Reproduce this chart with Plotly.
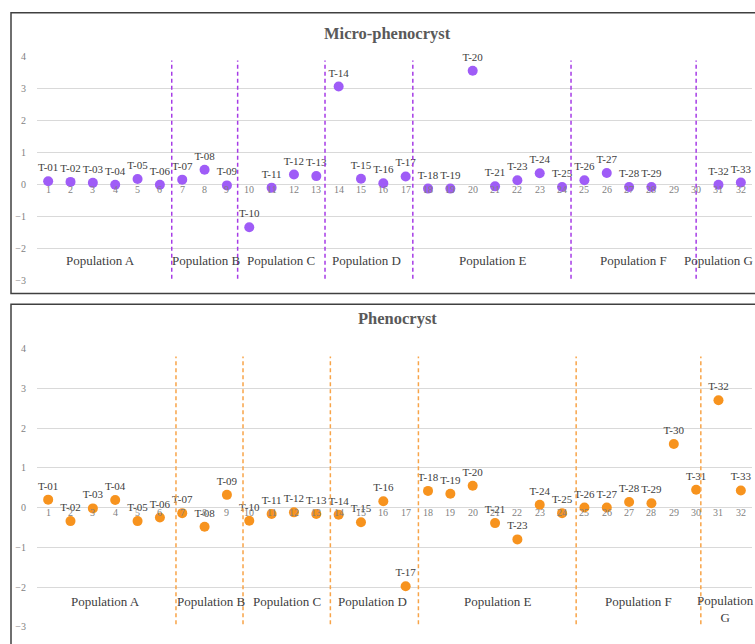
import plotly.graph_objects as go

# ---------------- data ----------------
categories = list(range(1, 33))

micro_values = [0.11, 0.09, 0.06, 0.0, 0.18, 0.0, 0.16, 0.47, -0.02, -1.33,
                -0.09, 0.32, 0.27, 3.07, 0.19, 0.05, 0.26, -0.12, -0.12, 3.56,
                -0.05, 0.14, 0.36, -0.07, 0.14, 0.37, -0.07, -0.07, None, None,
                0.0, 0.07]
micro_labels = ["T-01", "T-02", "T-03", "T-04", "T-05", "T-06", "T-07", "T-08", "T-09", "T-10",
                "T-11", "T-12", "T-13", "T-14", "T-15", "T-16", "T-17", "T-18", "T-19", "T-20",
                "T-21", "T-23", "T-24", "T-25", "T-26", "T-27", "T-28", "T-29", "", "",
                "T-32", "T-33"]

pheno_values = [0.20, -0.34, -0.02, 0.19, -0.34, -0.25, -0.14, -0.48, 0.32, -0.33,
                -0.16, -0.12, -0.16, -0.18, -0.37, 0.16, -1.98, 0.42, 0.35, 0.55,
                -0.39, -0.80, 0.07, -0.14, 0.0, 0.0, 0.14, 0.11, 1.60, 0.45,
                2.70, 0.43]
pheno_labels = ["T-01", "T-02", "T-03", "T-04", "T-05", "T-06", "T-07", "T-08", "T-09", "T-10",
                "T-11", "T-12", "T-13", "T-14", "T-15", "T-16", "T-17", "T-18", "T-19", "T-20",
                "T-21", "T-23", "T-24", "T-25", "T-26", "T-27", "T-28", "T-29", "T-30", "T-31",
                "T-32", "T-33"]

populations = ["Population A", "Population B", "Population C", "Population D",
               "Population E", "Population F", "Population G"]
micro_pop_x = [3.32, 8.1, 11.42, 15.26, 20.9, 27.2, 31.0]
pheno_pop_x = [3.56, 8.29, 11.68, 15.53, 21.15, 27.4, 31.3]
pheno_pop_text = ["Population A", "Population B", "Population C", "Population D",
                  "Population E", "Population F", "Population<br>G"]

micro_separators = [6.53, 9.48, 13.39, 17.32, 24.4, 30.0]
pheno_separators = [6.72, 9.72, 13.63, 17.57, 24.63, 30.21]

yticks = [-3, -2, -1, 0, 1, 2, 3, 4]

# ---------------- figure ----------------
W, H = 755, 644
SERIF = "Liberation Serif, Times New Roman, serif"
PURPLE = "#9F5CF7"
PURPLE_LINE = "#A63BE6"
ORANGE = "#F7931E"
ORANGE_LINE = "#F8A448"


def py(pix):
    return 1 - pix / H


fig = go.Figure()

fig.add_trace(go.Scatter(
    x=categories, y=micro_values, mode="markers+text", text=micro_labels,
    textposition="top center", cliponaxis=False,
    textfont=dict(family=SERIF, size=11, color="#404040"),
    marker=dict(color=PURPLE, size=10), xaxis="x", yaxis="y", showlegend=False))

fig.add_trace(go.Scatter(
    x=categories, y=pheno_values, mode="markers+text", text=pheno_labels,
    textposition="top center", cliponaxis=False,
    textfont=dict(family=SERIF, size=11, color="#404040"),
    marker=dict(color=ORANGE, size=10), xaxis="x2", yaxis="y2", showlegend=False))

xdom = [37 / W, 752 / W]
axis_common = dict(range=[-3, 4], tickvals=yticks, showgrid=True, gridcolor="#D9D9D9",
                   gridwidth=1, zeroline=False, showline=False,
                   tickfont=dict(family=SERIF, size=10, color="#7F7F7F"),
                   ticklabelstandoff=10)
xcommon = dict(range=[0.5, 32.5], showgrid=False, zeroline=False, showline=False,
               showticklabels=False, domain=xdom)

fig.update_layout(
    width=W, height=H, margin=dict(l=0, r=0, t=0, b=0),
    paper_bgcolor="white", plot_bgcolor="white",
    xaxis=dict(**xcommon, anchor="y"),
    yaxis=dict(**axis_common, domain=[py(280), py(51.7)], anchor="x"),
    xaxis2=dict(**xcommon, anchor="y2"),
    yaxis2=dict(**axis_common, domain=[py(632.7), py(349)], anchor="x2"),
)

shapes = []
# frames
shapes.append(dict(type="rect", xref="paper", yref="paper", x0=11 / W, x1=1.05,
                   y0=py(293), y1=py(7), line=dict(color="#404040", width=1.5)))
shapes.append(dict(type="rect", xref="paper", yref="paper", x0=11 / W, x1=1.05,
                   y0=-0.05, y1=py(304), line=dict(color="#404040", width=1.5)))
for s in micro_separators:
    shapes.append(dict(type="line", xref="x", yref="y", x0=s, x1=s, y0=-2.94, y1=3.88,
                       line=dict(color=PURPLE_LINE, width=1.5, dash="4px,3px")))
for s in pheno_separators:
    shapes.append(dict(type="line", xref="x2", yref="y2", x0=s, x1=s, y0=-2.93, y1=3.80,
                       line=dict(color=ORANGE_LINE, width=1.5, dash="4px,3px")))
fig.update_layout(shapes=shapes)

ann = []
# titles
ann.append(dict(text="<b>Micro-phenocryst</b>", xref="paper", yref="paper",
                x=387.5 / W, y=py(28), showarrow=False, xanchor="center", yanchor="middle",
                font=dict(family=SERIF, size=16.5, color="#595959")))
ann.append(dict(text="<b>Phenocryst</b>", xref="paper", yref="paper",
                x=397 / W, y=py(318), showarrow=False, xanchor="center", yanchor="middle",
                font=dict(family=SERIF, size=16.5, color="#595959")))
# category labels next to the zero line
for xr, yr in (("x", "y"), ("x2", "y2")):
    for c in categories:
        ann.append(dict(text=str(c), xref=xr, yref=yr, x=c, y=0, yshift=-5,
                        showarrow=False, xanchor="center", yanchor="middle",
                        font=dict(family=SERIF, size=10, color="#7F7F7F")))
# population labels
for name, xv in zip(populations, micro_pop_x):
    ann.append(dict(text=name, xref="x", yref="y", x=xv, y=-2.36, showarrow=False,
                    xanchor="center", yanchor="middle",
                    font=dict(family=SERIF, size=13, color="#404040")))
for name, xv in zip(pheno_pop_text, pheno_pop_x):
    ann.append(dict(text=name, xref="x2", yref="y2", x=xv,
                    y=-2.54 if "<br>" in name else -2.37, showarrow=False,
                    xanchor="center", yanchor="middle",
                    font=dict(family=SERIF, size=13, color="#404040")))
fig.update_layout(annotations=ann)

fig.write_html("out.html")
